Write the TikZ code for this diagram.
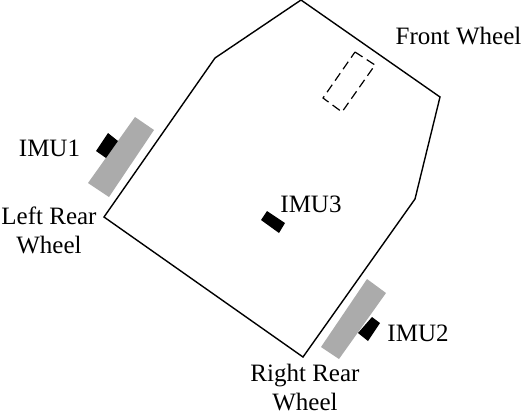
\documentclass[tikz,border=0pt]{standalone}
\usepackage{fontspec}
\setmainfont{Liberation Serif}
\begin{document}
\begin{tikzpicture}[x=1pt,y=-1pt,
  body/.style={draw=black,line width=1.4pt,line join=miter},
  wheel/.style={fill=black!33},
  imu/.style={fill=black},
  front/.style={draw=black,line width=1.2pt,dash pattern=on 9pt off 5pt},
  lbl/.style={inner sep=0pt,align=center,font=\fontsize{25}{29}\selectfont}]
\useasboundingbox (0,0) rectangle (522,416);
\draw[body] (301,0) -- (440,97) -- (415,199) -- (303,357) -- (104,217) -- (215,58) -- cycle;
\draw[front] (355,52) -- (375,65) -- (342,112) -- (323,98) -- cycle;
\fill[wheel] (135,117) -- (154,130) -- (109,197) -- (88,183) -- cycle;
\fill[wheel] (367,279) -- (386,293) -- (339,359) -- (321,347) -- cycle;
\fill[imu] (108,133) -- (118,141) -- (106,158) -- (96,151) -- cycle;
\fill[imu] (372,317) -- (380,323) -- (368,341) -- (358,333) -- cycle;
\fill[imu] (267,211) -- (285,223) -- (279,233) -- (261,220) -- cycle;
\node[lbl] (fw) at (458.5,36) {Front Wheel};
\node[lbl] (i1) at (49.5,148) {IMU1};
\node[lbl] (i2) at (418,333) {IMU2};
\node[lbl] (i3) at (311,204) {IMU3};
\node[lbl] (lr) at (49,230) {Left Rear\\Wheel};
\node[lbl] (rr) at (305,388) {Right Rear\\Wheel};
\end{tikzpicture}
\end{document}
